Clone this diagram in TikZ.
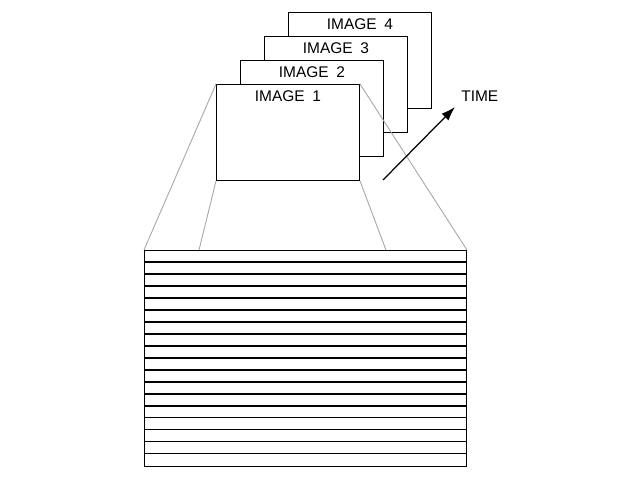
\documentclass[tikz,border=0pt]{standalone}
\usepackage{fontspec}
\setmainfont{Liberation Sans}
\usetikzlibrary{positioning,arrows.meta}
\tikzset{
    frame/.style={draw, fill=white, line width=0.6pt, inner sep=0pt,
        minimum width=2.86cm, minimum height=1.92cm, anchor=north west},
    cone/.style={draw=gray!70, line width=0.5pt},
    tag/.style={font=\fontsize{8.8}{10}\selectfont}
}
\begin{document}
\begin{tikzpicture}[x=0.02cm, y=-0.02cm]
        \useasboundingbox (0,0) rectangle (640,480);
        % stack of images
        \foreach \i in {4,3,2,1} {
            \node[frame] (img\i) at ({216+24*(\i-1)}, {84-24*(\i-1)}) {};
            \node[tag, anchor=north, inner sep=3.5pt] (lab\i) at (img\i.north) {IMAGE\enspace\i};
        }
        % strips
        \node[draw, line width=0.6pt, inner sep=0pt, minimum width=6.44cm,
            minimum height=4.32cm, anchor=north west] (grid) at (144,250) {};
        \foreach \k in {1,...,17} {
            \draw[line width=0.6pt] ([yshift={-0.24cm*\k}]grid.north west) -- ([yshift={-0.24cm*\k}]grid.north east);
        }
        \coordinate (gl) at (199,250);
        \coordinate (gr) at (386,250);
        \draw[cone] (img1.north west) -- (grid.north west);
        \draw[cone] (img1.north east) -- (grid.north east);
        \draw[cone] (img1.south west) -- (gl);
        \draw[cone] (img1.south east) -- (gr);
        % time
        \coordinate (tail) at (383,180);
        \node[tag, anchor=west, inner sep=0pt] (time) at (461,96) {TIME};
        \coordinate (head) at (455,107);
        \draw[line width=0.7pt, -{Latex[length=8pt, width=5.5pt]}] (tail) -- (head);
\end{tikzpicture}
\end{document}
